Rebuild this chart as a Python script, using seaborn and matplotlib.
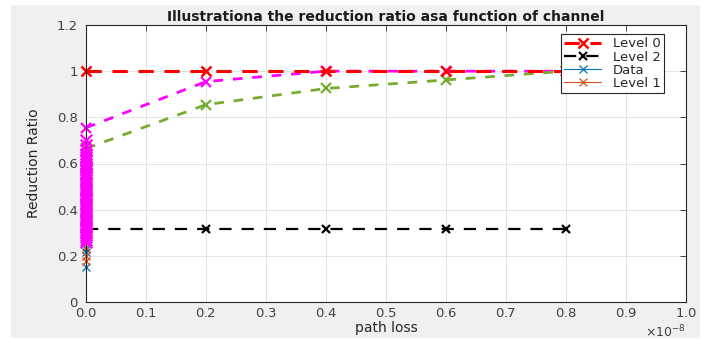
import numpy as np
import pandas as pd
import seaborn as sns
import matplotlib.pyplot as plt
from matplotlib.patches import Rectangle

# values (path loss, x axis shown in units of 1e-8)
path_loss = [0, 0.2e-8, 0.4e-8, 0.6e-8, 0.8e-8]
level0 = [1.0, 1.0, 1.0, 1.0, 1.0]
level2 = [0.315, 0.315, 0.315, 0.315, 0.315]
upper_curve = [0.755, 0.955, 1.0, 1.0, 1.0]
lower_curve = [0.665, 0.855, 0.925, 0.962, 1.0]

data_y = [0.15, 0.215, 0.23]
level1_y = [0.178, 0.198, 0.24]
column_y = [0.26, 0.27, 0.28, 0.29, 0.30, 0.31, 0.32, 0.33, 0.34,
            0.35, 0.36, 0.37, 0.38, 0.39, 0.40, 0.41, 0.42, 0.43, 0.44,
            0.45, 0.46, 0.47, 0.48, 0.49, 0.50, 0.51, 0.52, 0.53, 0.54,
            0.55, 0.56, 0.57, 0.58, 0.59, 0.60, 0.61, 0.62, 0.63, 0.64,
            0.66, 0.68, 0.70]

sns.set_style("white")
plt.rcParams['font.family'] = ['DejaVu Sans']

fig = plt.figure(figsize=(7.01, 3.41), dpi=100, facecolor='white')
fig.patches.append(Rectangle((11 / 701, 3 / 341), 689 / 701, 333 / 341,
                             transform=fig.transFigure, facecolor='#f0f0f0',
                             edgecolor='none', zorder=-10))
ax = fig.add_axes([86 / 701, 39 / 341, 600 / 701, 277 / 341])
ax.set_facecolor('white')

red = '#ff0000'
magenta = '#ff00ff'
green = '#77ac30'
blue = '#0072bd'
orange = '#d95319'


def line(x, y, color, label=None, **kw):
    sns.lineplot(x=x, y=y, estimator=None, sort=False, ax=ax, color=color,
                 marker='x', markeredgecolor=color, markerfacecolor=color,
                 label=label, legend=label is not None, clip_on=False, **kw)


line([0] * len(data_y), data_y, blue, 'Data', lw=0.8, markersize=6, markeredgewidth=0.9)
line([0] * len(level1_y), level1_y, orange, 'Level 1', lw=0.8, markersize=6, markeredgewidth=0.9)
sns.scatterplot(x=[0] * len(column_y), y=column_y, ax=ax, color=magenta,
                marker='x', s=70, linewidth=1.6, legend=False, zorder=3, clip_on=False)
line(path_loss, upper_curve, magenta, lw=2, ls=(0, (3.5, 3.5)), markersize=6.5, markeredgewidth=1.6)
line(path_loss, lower_curve, green, lw=2, ls=(0, (3.5, 3.5)), markersize=6.5, markeredgewidth=1.6)
line(path_loss, level2, 'black', 'Level 2', lw=1.6, ls=(0, (5.5, 4.5)), markersize=5.5, markeredgewidth=1.6)
line(path_loss, level0, red, 'Level 0', lw=2.2, ls=(0, (5, 3.5)), markersize=6.5, markeredgewidth=1.8)

ax.set_xlim(0, 1e-8)
ax.set_ylim(0, 1.2)
ax.set_xticks(np.arange(0, 11) * 1e-9)
ax.set_yticks([0, 0.2, 0.4, 0.6, 0.8, 1.0, 1.2])
ax.set_yticklabels(['0', '0.2', '0.4', '0.6', '0.8', '1', '1.2'])
ax.ticklabel_format(axis='x', style='sci', scilimits=(0, 0), useMathText=True)
ax.xaxis.get_offset_text().set_fontsize(9)
ax.xaxis.get_offset_text().set_color('#404040')

ax.grid(True, color='#e3e3e3', lw=0.7)
ax.tick_params(direction='in', top=True, right=True, length=4,
               labelsize=9.5, colors='#404040', width=0.7)
ax.tick_params(axis='y', pad=6)
for s in ax.spines.values():
    s.set_color('#262626')
    s.set_linewidth(0.8)

ax.set_xlabel('path loss', fontsize=10, color='#262626', labelpad=1)
ax.set_ylabel('Reduction Ratio', fontsize=10, color='#262626', labelpad=11)
ax.set_title('Illustrationa the reduction ratio asa function of channel',
             fontsize=10, fontweight='bold', color='#1a1a1a', pad=3)

h, l = ax.get_legend_handles_labels()
order = ['Level 0', 'Level 2', 'Data', 'Level 1']
hd = dict(zip(l, h))
leg = ax.legend([hd[k] for k in order], order, loc='upper left',
                bbox_to_anchor=(475 / 600, 268 / 277), fontsize=9.5, frameon=True,
                fancybox=False, edgecolor='#262626', framealpha=1,
                handlelength=2.8, borderpad=0.25, labelspacing=0.02,
                handletextpad=0.9, borderaxespad=0)
leg.get_frame().set_linewidth(0.8)

fig.savefig('out.png', dpi=100, facecolor=fig.get_facecolor())
